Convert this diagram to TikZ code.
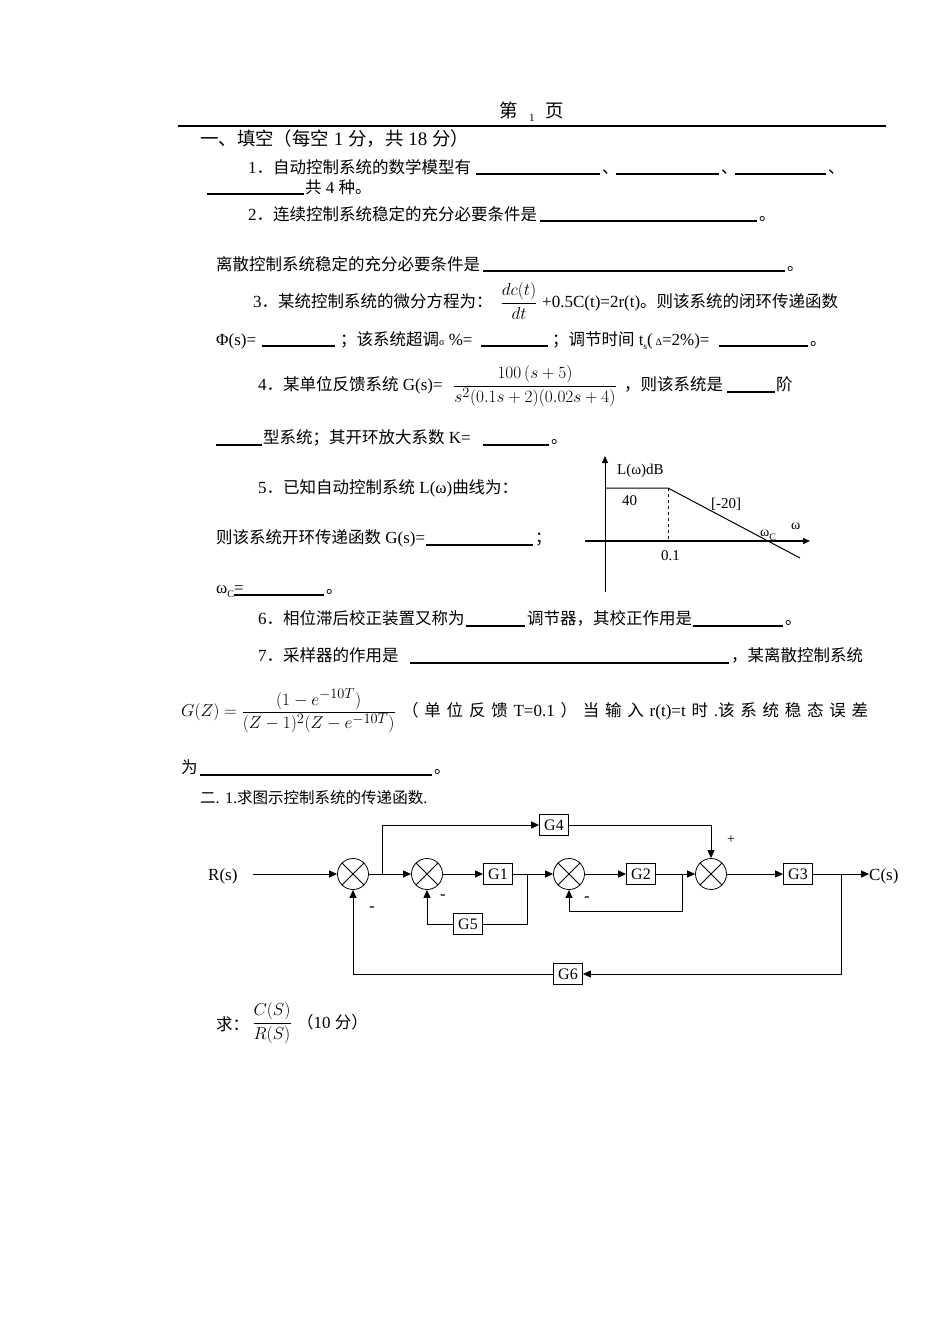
\documentclass[tikz,border=0pt]{standalone}
\usepackage{fontspec}
\setmainfont{Liberation Serif}
\newfontfamily\cjk{Noto Sans CJK SC}[Scale=0.97]
\usetikzlibrary{arrows.meta}
\newcommand{\Z}[1]{{\cjk #1}}
\begin{document}
\begin{tikzpicture}[x=1pt,y=-1pt,
  tx/.style={anchor=base west,inner sep=0pt,font=\fontsize{17}{20}\selectfont},
  mth/.style={inner sep=0pt,font=\fontsize{19}{22}\selectfont},
  blank/.style={line width=1.3pt},
  blk/.style={draw,line width=0.8pt,minimum width=29pt,minimum height=21pt,inner sep=0pt,font=\fontsize{16}{18}\selectfont},
  sumj/.style={draw,circle,line width=0.8pt,minimum size=31pt,inner sep=0pt,
     path picture={\draw[line width=0.8pt] (path picture bounding box.north west)--(path picture bounding box.south east) (path picture bounding box.north east)--(path picture bounding box.south west);}},
  ln/.style={line width=0.9pt},
  ar/.style={line width=0.9pt,-{Triangle[length=8pt,width=7pt]}}]
\useasboundingbox (0,0) rectangle (950,1344);
\fill[white] (0,0) rectangle (950,1344);
% header
\node[tx,font=\fontsize{19}{20}\selectfont] (h1) at (499,117) {\Z{第}};
\node[tx,font=\fontsize{11}{12}\selectfont] (h2) at (529,121) {1};
\node[tx,font=\fontsize{19}{20}\selectfont] (h3) at (545,117) {\Z{页}};
\draw[line width=1.5pt] (178,126) -- (886,126);
\node[tx,font=\fontsize{19}{20}\selectfont] (s1) at (200,145) {\Z{一、填空（每空} 1 \Z{分，共} 18 \Z{分）}};
% item 1
\node[tx] (a1) at (248,173) {1\Z{．自动控制系统的数学模型有}};
\draw[blank] (476,174)--(600,174); \node[tx] (a2) at (602,173) {\Z{、}};
\draw[blank] (616,174)--(719,174); \node[tx] (a3) at (721,173) {\Z{、}};
\draw[blank] (735,174)--(826,174); \node[tx] (a4) at (828,173) {\Z{、}};
\draw[blank] (207,194)--(304,194); \node[tx] (a5) at (305,193) {\Z{共} 4 \Z{种。}};
% item 2
\node[tx] (b1) at (248,220) {2\Z{．连续控制系统稳定的充分必要条件是}};
\draw[blank] (540,221)--(757,221); \node[tx] (b2) at (759,220) {\Z{。}};
\node[tx] (b3) at (216,270) {\Z{离散控制系统稳定的充分必要条件是}};
\draw[blank] (483,271)--(785,271); \node[tx] (b4) at (787,270) {\Z{。}};
% item 3
\node[tx] (c1) at (253,307) {3\Z{．某统控制系统的微分方程为：}};
\node[mth] (c2) at (519,301) {$\displaystyle\frac{dc(t)}{dt}$};
\node[tx] (c3) at (542,307) {+0.5C(t)=2r(t)\Z{。则该系统的闭环传递函数}};
\node[tx] (c4) at (216,345) {Φ(s)=};
\draw[blank] (262,346)--(335,346);
\node[tx] (c5) at (340,345) {\Z{；该系统超调}{\fontsize{10}{12}\selectfont σ} \%=};
\draw[blank] (481,346)--(548,346);
\node[tx] (c6) at (552,345) {\Z{；调节时间} t\raisebox{-4pt}{\fontsize{9}{10}\selectfont s}(\,{\fontsize{10}{12}\selectfont Δ}=2\%)=};
\draw[blank] (719,346)--(808,346); \node[tx] (c7) at (810,345) {\Z{。}};
% item 4
\node[tx] (d1) at (258,390) {4\Z{．某单位反馈系统} G(s)=};
\node[mth] (d2) at (535,386) {$\displaystyle\frac{100\,(s+5)}{s^{2}(0.1s+2)(0.02s+4)}$};
\node[tx] (d3) at (624,390) {\Z{，则该系统是}};
\draw[blank] (727,392)--(775,392); \node[tx] (d4) at (776,390) {\Z{阶}};
\draw[blank] (216,445)--(262,445);
\node[tx] (d5) at (263,443) {\Z{型系统；其开环放大系数} K=};
\draw[blank] (483,445)--(549,445); \node[tx] (d6) at (551,443) {\Z{。}};
% item 5
\node[tx] (e1) at (258,493) {5\Z{．已知自动控制系统} L(ω)\Z{曲线为：}};
\node[tx] (e2) at (216,543) {\Z{则该系统开环传递函数} G(s)=};
\draw[blank] (426,545)--(533,545); \node[tx] (e3) at (535,543) {\Z{；}};
\node[tx] (e4) at (216,593) {ω\raisebox{-4pt}{\fontsize{10}{12}\selectfont C}=};
\draw[blank] (234,595)--(324,595); \node[tx] (e5) at (326,593) {\Z{。}};
% bode
\coordinate (yt) at (605,456);
\coordinate (yb) at (605,592);
\coordinate (xl) at (585,541);
\coordinate (xr) at (810,541);
\coordinate (k) at (668,488);
\coordinate (kb) at (668,541);
\coordinate (ee) at (800,558);
\draw[line width=1pt,-{Triangle[length=7pt,width=6pt]}] (yb)--(yt);
\draw[line width=1.5pt,-{Triangle[length=7pt,width=6pt]}] (xl)--(xr);
\draw[line width=1pt] (605,488)--(k)--(ee);
\draw[dashed,line width=0.7pt] (k)--(kb);
\node[tx,font=\fontsize{15}{16}\selectfont] (f1) at (617,474) {L(ω)dB};
\node[tx,font=\fontsize{15}{16}\selectfont] (f2) at (622,505) {40};
\node[tx,font=\fontsize{15}{16}\selectfont] (f3) at (711,508) {[-20]};
\node[tx,font=\fontsize{14}{16}\selectfont] (f4) at (791,529) {ω};
\node[tx,font=\fontsize{14}{16}\selectfont] (f5) at (760,536) {ω\raisebox{-4pt}{\fontsize{10}{12}\selectfont C}};
\node[tx,font=\fontsize{15}{16}\selectfont] (f6) at (661,560) {0.1};
% item 6
\node[tx] (g1) at (258,624) {6\Z{．相位滞后校正装置又称为}};
\draw[blank] (466,626)--(525,626);
\node[tx] (g2) at (527,624) {\Z{调节器，其校正作用是}};
\draw[blank] (693,626)--(783,626); \node[tx] (g3) at (785,624) {\Z{。}};
% item 7
\node[tx] (h4) at (258,661) {7\Z{．采样器的作用是}};
\draw[blank] (410,663)--(729,663);
\node[tx] (h5) at (731,661) {\Z{，某离散控制系统}};
\node[mth,anchor=west] (h6) at (181,711) {$\displaystyle G(Z)=\frac{(1-e^{-10T})}{(Z-1)^{2}(Z-e^{-10T})}$};
\node[tx] (h7) at (402,716) {\makebox[466pt][s]{\Z{（}\hfill\Z{单}\hfill\Z{位}\hfill\Z{反}\hfill\Z{馈}\hfill T=0.1\hfill\Z{）}\hfill\Z{当}\hfill\Z{输}\hfill\Z{入}\hfill r(t)=t\hfill\Z{时}\hfill.\Z{该}\hfill\Z{系}\hfill\Z{统}\hfill\Z{稳}\hfill\Z{态}\hfill\Z{误}\hfill\Z{差}}};
\node[tx] (h8) at (181,773) {\Z{为}};
\draw[blank] (200,775)--(432,775); \node[tx] (h9) at (434,773) {\Z{。}};
% part 2
\node[tx,font=\fontsize{16}{18}\selectfont] (p1) at (200,803) {\Z{二}. 1.\Z{求图示控制系统的传递函数}.};
% block diagram
\node[tx] (R) at (208,880) {R(s)};
\coordinate (rin) at (253,874);
\node[sumj] (s1j) at (353,874) {};
\node[sumj] (s2j) at (427,874) {};
\node[blk] (G1) at (498,874) {G1};
\node[sumj] (s3j) at (569,874) {};
\node[blk] (G2) at (641,874) {G2};
\node[sumj] (s4j) at (711,874) {};
\node[blk] (G3) at (798,874) {G3};
\node[tx] (C) at (869,880) {C(s)};
\coordinate (cout) at (869,874);
\node[blk] (G4) at (554,825) {G4};
\node[blk] (G5) at (468,924) {G5};
\node[blk] (G6) at (568,974) {G6};
\coordinate (b1) at (382,874);
\coordinate (b2) at (527,874);
\coordinate (b3) at (682,874);
\coordinate (b4) at (841,874);
\draw[ar] (rin)--(s1j);
\draw[ar] (s1j)--(s2j);
\draw[ar] (s2j)--(G1);
\draw[ar] (G1)--(s3j);
\draw[ar] (s3j)--(G2);
\draw[ar] (G2)--(s4j);
\draw[ar] (s4j)--(G3);
\draw[ar] (G3)--(cout);
\draw[ar] (b1)|-(G4);
\draw[ar] (G4)-|(s4j);
\draw[ln] (b2)|-(G5);
\draw[ar] (G5)-|(s2j);
\draw[ar] (b3)|-(569,911)--(s3j);
\draw[ar] (b4)|-(G6);
\draw[ar] (G6)-|(s1j);
\node[tx] (m1) at (369,911) {-};
\node[tx] (m2) at (440,899) {-};
\node[tx] (m3) at (584,901) {-};
\node[tx,font=\fontsize{14}{16}\selectfont] (m4) at (727,843) {+};
% final
\node[tx] (q1) at (216,1030) {\Z{求：}};
\node[mth] (q2) at (272,1023) {$\displaystyle\frac{C(S)}{R(S)}$};
\node[tx] (q3) at (297,1028) {\Z{（}10 \Z{分）}};
\end{tikzpicture}
\end{document}
